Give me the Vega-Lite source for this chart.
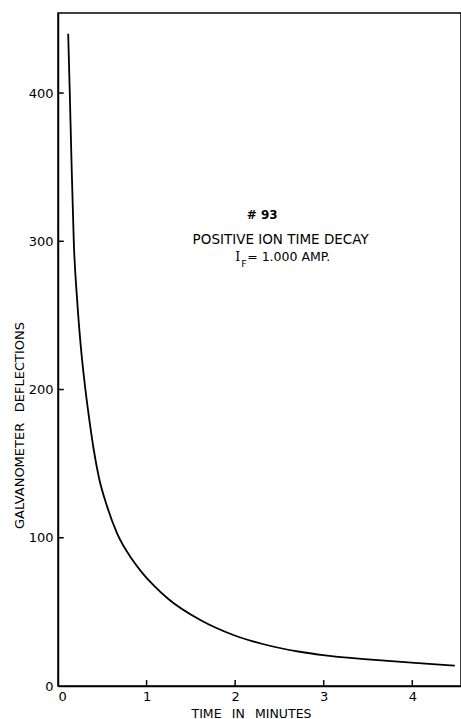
{
  "$schema": "https://vega.github.io/schema/vega-lite/v6.json",
  "width": 403,
  "height": 673,
  "autosize": "none",
  "padding": {"left": 58, "top": 13, "right": 0, "bottom": 33},
  "background": "white",
  "config": {
    "view": {"stroke": "black", "strokeWidth": 1.5},
    "font": "DejaVu Sans",
    "axis": {
      "domainColor": "black",
      "domainWidth": 1.5,
      "ticks": false,
      "labelColor": "black",
      "titleColor": "black",
      "labelFont": "DejaVu Sans",
      "titleFont": "DejaVu Sans",
      "labelFontSize": 13,
      "titleFontSize": 13,
      "titleFontWeight": "normal",
      "grid": false
    }
  },
  "datasets": {
    "curve": [
      {"t": 0.115, "v": 440},
      {"t": 0.133, "v": 400},
      {"t": 0.152, "v": 355},
      {"t": 0.178, "v": 300},
      {"t": 0.216, "v": 260.5},
      {"t": 0.261, "v": 226.7},
      {"t": 0.31, "v": 199.7},
      {"t": 0.359, "v": 177.3},
      {"t": 0.404, "v": 159.2},
      {"t": 0.46, "v": 141.2},
      {"t": 0.555, "v": 121},
      {"t": 0.667, "v": 103},
      {"t": 0.836, "v": 85.5},
      {"t": 0.949, "v": 76.5},
      {"t": 1.08, "v": 67.8},
      {"t": 1.249, "v": 58.5},
      {"t": 1.607, "v": 44.5},
      {"t": 1.98, "v": 34.4},
      {"t": 2.3, "v": 28.5},
      {"t": 2.73, "v": 23.1},
      {"t": 2.99, "v": 20.9},
      {"t": 3.5, "v": 18},
      {"t": 3.99, "v": 15.7},
      {"t": 4.48, "v": 13.7}
    ],
    "xticks": [
      {"t": 1, "v0": 0, "v1": 4},
      {"t": 2, "v0": 0, "v1": 4},
      {"t": 3, "v0": 0, "v1": 4},
      {"t": 4, "v0": 0, "v1": 4}
    ],
    "yticks": [
      {"v": 100, "t0": 0, "t1": 0.065},
      {"v": 200, "t0": 0, "t1": 0.065},
      {"v": 300, "t0": 0, "t1": 0.065},
      {"v": 400, "t0": 0, "t1": 0.065}
    ],
    "head": [{"t": 2.306, "v": 317.5, "label": "# 93"}],
    "sub": [{"t": 2.514, "v": 301, "label": "POSITIVE ION TIME DECAY"}],
    "ia": [{"t": 2.0, "v": 289.5, "label": "I"}],
    "fa": [{"t": 2.07, "v": 284.5, "label": "F"}],
    "amp": [{"t": 2.136, "v": 289.5, "label": "= 1.000 AMP."}]
  },
  "layer": [
    {
      "data": {"name": "curve"},
      "mark": {"type": "line", "color": "black", "strokeWidth": 1.8, "interpolate": "monotone", "clip": true},
      "encoding": {
        "x": {
          "field": "t", "type": "quantitative",
          "scale": {"domain": [0, 4.55], "nice": false, "zero": false},
          "axis": {
            "values": [0, 1, 2, 3, 4],
            "format": "d",
            "labelPadding": 4,
            "labelBaseline": "top",
            "title": "TIME\u2002 IN\u2002 MINUTES",
            "titleFontSize": 12.5,
            "titleBaseline": "alphabetic",
            "titleY": 31,
            "titleX": 193
          }
        },
        "y": {
          "field": "v", "type": "quantitative",
          "scale": {"domain": [0, 454], "nice": false},
          "axis": {
            "values": [0, 100, 200, 300, 400],
            "labelPadding": 5,
            "title": "GALVANOMETER\u2002 DEFLECTIONS",
            "titleAngle": -90,
            "titleAlign": "center",
            "titleBaseline": "middle",
            "titleX": -39,
            "titleY": 412
          }
        }
      }
    },
    {
      "data": {"name": "xticks"},
      "mark": {"type": "rule", "color": "black", "strokeWidth": 1.5},
      "encoding": {"x": {"field": "t", "type": "quantitative"}, "y": {"field": "v0", "type": "quantitative"}, "y2": {"field": "v1"}}
    },
    {
      "data": {"name": "yticks"},
      "mark": {"type": "rule", "color": "black", "strokeWidth": 1.5},
      "encoding": {"y": {"field": "v", "type": "quantitative"}, "x": {"field": "t0", "type": "quantitative"}, "x2": {"field": "t1"}}
    },
    {
      "data": {"name": "head"},
      "mark": {"type": "text", "fontSize": 12, "fontWeight": "bold", "color": "black", "align": "center", "baseline": "middle"},
      "encoding": {"x": {"field": "t", "type": "quantitative"}, "y": {"field": "v", "type": "quantitative"}, "text": {"field": "label"}}
    },
    {
      "data": {"name": "sub"},
      "mark": {"type": "text", "fontSize": 13.5, "color": "black", "align": "center", "baseline": "middle"},
      "encoding": {"x": {"field": "t", "type": "quantitative"}, "y": {"field": "v", "type": "quantitative"}, "text": {"field": "label"}}
    },
    {
      "data": {"name": "ia"},
      "mark": {"type": "text", "fontSize": 12.5, "color": "black", "align": "left", "baseline": "middle", "font": "DejaVu Serif"},
      "encoding": {"x": {"field": "t", "type": "quantitative"}, "y": {"field": "v", "type": "quantitative"}, "text": {"field": "label"}}
    },
    {
      "data": {"name": "fa"},
      "mark": {"type": "text", "fontSize": 9.5, "color": "black", "align": "left", "baseline": "middle"},
      "encoding": {"x": {"field": "t", "type": "quantitative"}, "y": {"field": "v", "type": "quantitative"}, "text": {"field": "label"}}
    },
    {
      "data": {"name": "amp"},
      "mark": {"type": "text", "fontSize": 12.5, "color": "black", "align": "left", "baseline": "middle"},
      "encoding": {"x": {"field": "t", "type": "quantitative"}, "y": {"field": "v", "type": "quantitative"}, "text": {"field": "label"}}
    }
  ]
}
